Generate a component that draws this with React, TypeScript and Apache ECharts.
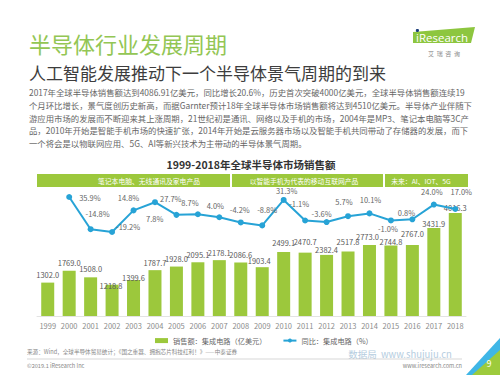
import React, { useEffect, useRef } from "react";
import * as echarts from "echarts";

// ---------- data ----------
const years = ["1999","2000","2001","2002","2003","2004","2005","2006","2007","2008","2009","2010","2011","2012","2013","2014","2015","2016","2017","2018"];
const sales = [1302.0,1769.0,1508.0,1218.8,1399.6,1787.7,1928.0,2095.1,2178.1,2086.6,1903.4,2499.1,2470.7,2382.4,2517.8,2773.0,2744.8,2767.0,3431.9,4016.3];
const growth: (number | null)[] = [null,35.9,-14.8,-19.2,14.8,27.7,7.8,8.7,4.0,-4.2,-8.8,31.3,-1.1,-3.6,5.7,10.1,-1.0,0.8,24.0,17.0];
const salesName = "销售额：集成电路（亿美元）";
const growthName = "同比：集成电路（%）";
const phases = ["笔记本电脑、无线通讯及家电产品", "以智能手机为代表的移动互联网产品", "未来：AI、IOT、5G"];
const mainTitle = "半导体行业发展周期";
const subTitle = "人工智能发展推动下一个半导体景气周期的到来";
const paragraph = [
  "2017年全球半导体销售额达到4086.91亿美元，同比增长20.6%，历史首次突破4000亿美元，全球半导体销售额连续19",
  "个月环比增长，景气度创历史新高，而据Garnter预计18年全球半导体市场销售额将达到4510亿美元。半导体产业伴随下",
  "游应用市场的发展而不断迎来其上涨周期，21世纪初是通讯、网络以及手机的市场，2004年是MP3、笔记本电脑等3C产",
  "品，2010年开始是智能手机市场的快速扩张，2014年开始是云服务器市场以及智能手机共同带动了存储器的发展，而下",
  "一个将会是以物联网应用、5G、AI等新兴技术为主带动的半导体景气周期。",
];
const chartTitle = "1999-2018年全球半导体市场销售额";
const sourceText = "来源：Wind，全球半导体贸易统计；《国之重器、拥抱芯片科技红利！》——中泰证券";

// ---------- label placement (style only) ----------
const growthLabelPos: [string, number, number][] = [
  ["top", 0, 0], ["right", 2, 0], ["top", 7, -4], ["right", -4, -5], ["top", -5, -1],
  ["right", -3, -4], ["left", -5, 4], ["top", -8, 0], ["top", -4, 0], ["top", -1, -1],
  ["top", 5, -4], ["top", 3, 2], ["top", -6, -5], ["top", -5, 3], ["top", -4, -3],
  ["top", 1, -2], ["bottom", -3, -4], ["top", -6, 5], ["top", -2, -1], ["top", 6, -6],
];
const salesLabelOffset: [number, number][] = [
  [0, 0], [0, 0], [0, -1.5], [-1, 8], [0, 5], [0, 0], [0, 0], [0, 0], [0, 0], [0, 0],
  [-3, 1], [0, -2], [0, -3], [0, 2], [0, -2], [-2, -1], [0, 4], [0, -4], [0, 3], [0, 2],
];

const FONT = "'Noto Sans CJK SC', 'Noto Sans', sans-serif";
const GREEN = "#9cc83c";
const BLUE = "#27a3d6";

export default function App() {
  const ref = useRef<HTMLDivElement>(null);

  useEffect(() => {
    if (!ref.current) return;
    const chart = echarts.init(ref.current, null, { renderer: "svg" });

    const graphic: any[] = [];
    graphic.push({ type: "text", x: 29, y: 43, style: { text: mainTitle, fontSize: 22, fontFamily: FONT, fill: "#93c654", verticalAlign: "middle" } });
    graphic.push({ type: "text", x: 29, y: 72, style: { text: subTitle, fontSize: 17, fontFamily: FONT, fill: "#3d3d3d", verticalAlign: "middle" } });
    paragraph.forEach((line, i) => {
      graphic.push({ type: "text", x: 29, y: 92 + i * 12.8, style: { text: line, fontSize: 8.4, fontFamily: FONT, fill: "#666", verticalAlign: "middle" } });
    });
    graphic.push({ type: "text", x: 251, y: 164, style: { text: chartTitle, fontSize: 10.5, fontWeight: "bold", fontFamily: FONT, fill: "#333", align: "center", verticalAlign: "middle" } });

    // phase banners
    const banners = [
      { x0: 37, x1: 230, tx: 149 },
      { x0: 232, x1: 383, tx: 304 },
      { x0: 385, x1: 468, tx: 421 },
    ];
    banners.forEach((b, i) => {
      graphic.push({ type: "rect", shape: { x: b.x0, y: 174, width: b.x1 - b.x0, height: 13 }, style: { fill: GREEN } });
      graphic.push({ type: "text", x: b.tx, y: 180.5, style: { text: phases[i], fontSize: 6.8, fontFamily: FONT, fill: "#fff", align: "center", verticalAlign: "middle" } });
    });

    // logo
    graphic.push({ type: "polygon", shape: { points: [[413, 32], [475, 27], [471, 43], [413, 43]] }, style: { fill: "#8dc63f" } });
    graphic.push({ type: "text", x: 416, y: 37, style: { text: "iResearch", fontSize: 11.5, fontFamily: "'Open Sans', sans-serif", fill: "#fff", verticalAlign: "middle" } });
    graphic.push({ type: "circle", shape: { cx: 417.4, cy: 30.5, r: 1.6 }, style: { fill: "#1d3f7a" } });
    graphic.push({ type: "text", x: 444, y: 53, style: { text: "艾  瑞  咨  询", fontSize: 6, fontFamily: FONT, fill: "#8a8a8a", align: "center", verticalAlign: "middle" } });

    // footer
    graphic.push({ type: "text", x: 27, y: 352, style: { text: sourceText, fontSize: 5.6, fontFamily: FONT, fill: "#888", verticalAlign: "middle" } });
    graphic.push({ type: "text", x: 400, y: 354, style: { text: "数据局  www.shujuju.cn", fontSize: 9.5, fontFamily: FONT, fill: "#b5cde0", align: "center", verticalAlign: "middle" } });
    graphic.push({ type: "line", shape: { x1: 27, y1: 359, x2: 462, y2: 359 }, style: { stroke: "#bdbdbd", lineWidth: 0.6 } });
    graphic.push({ type: "text", x: 27, y: 365.5, style: { text: "©2019.1 iResearch Inc", fontSize: 5.6, fontFamily: FONT, fill: "#888", verticalAlign: "middle" } });
    graphic.push({ type: "text", x: 462, y: 365.5, style: { text: "www.iresearch.com.cn", fontSize: 5.6, fontFamily: FONT, fill: "#888", align: "right", verticalAlign: "middle" } });
    graphic.push({ type: "polygon", shape: { points: [[500, 338], [500, 375], [466, 375]] }, style: { fill: "#3fb6e6" } });
    graphic.push({ type: "polygon", shape: { points: [[500, 350], [500, 375], [472, 375]] }, style: { fill: "#9dcb3c" } });
    graphic.push({ type: "text", x: 489, y: 363, style: { text: "9", fontSize: 9, fontFamily: FONT, fill: "#fff", align: "center", verticalAlign: "middle" } });

    const barData = sales.map((v, i) => ({
      value: v,
      label: { offset: salesLabelOffset[i] },
    }));
    const lineData = growth.map((v, i) => {
      const [pos, dx, dy] = growthLabelPos[i];
      return { value: v, label: { position: pos, offset: [dx, dy] } };
    });

    const option: any = {
      animation: false,
      backgroundColor: "#fff",
      textStyle: { fontFamily: FONT },
      graphic,
      legend: {
        left: 150,
        top: 332,
        itemWidth: 13,
        itemHeight: 5,
        itemGap: 16,
        textStyle: { fontSize: 7.2, color: "#666", fontFamily: FONT },
        data: [
          { name: salesName, icon: "rect" },
          { name: growthName },
        ],
      },
      grid: [
        { left: 37, width: 429, top: 200.6, height: 115.4 },
        { left: 37, width: 429, top: 194.4, height: 38.1 },
      ],
      xAxis: [
        {
          type: "category",
          gridIndex: 0,
          data: years,
          axisLine: { lineStyle: { color: "#e3e3e3" } },
          axisTick: { show: false },
          axisLabel: { color: "#8c8c8c", fontSize: 7.5, margin: 6, interval: 0, fontFamily: FONT },
        },
        {
          type: "category",
          gridIndex: 1,
          data: years,
          show: false,
        },
      ],
      yAxis: [
        { type: "value", gridIndex: 0, min: 0, max: 4500, show: false },
        { type: "value", gridIndex: 1, min: -20, max: 40, show: false },
      ],
      series: [
        {
          name: salesName,
          type: "bar",
          xAxisIndex: 0,
          yAxisIndex: 0,
          barWidth: 13,
          itemStyle: { color: GREEN },
          label: {
            show: true,
            position: "top",
            distance: 4,
            fontSize: 7.5,
            color: "#5a5a5a",
            fontFamily: FONT,
            formatter: (p: any) => Number(p.value).toFixed(1),
          },
          data: barData,
        },
        {
          name: growthName,
          type: "line",
          xAxisIndex: 1,
          yAxisIndex: 1,
          symbol: "circle",
          symbolSize: 6,
          lineStyle: { color: BLUE, width: 2 },
          itemStyle: { color: BLUE },
          label: {
            show: true,
            distance: 5,
            fontSize: 7.5,
            color: "#666",
            fontFamily: FONT,
            formatter: (p: any) => Number(p.value).toFixed(1) + "%",
          },
          data: lineData,
        },
      ],
    };
    chart.setOption(option);
    return () => chart.dispose();
  }, []);

  return <div ref={ref} style={{ position: "absolute", left: 0, top: 0, width: 500, height: 375 }} />;
}
